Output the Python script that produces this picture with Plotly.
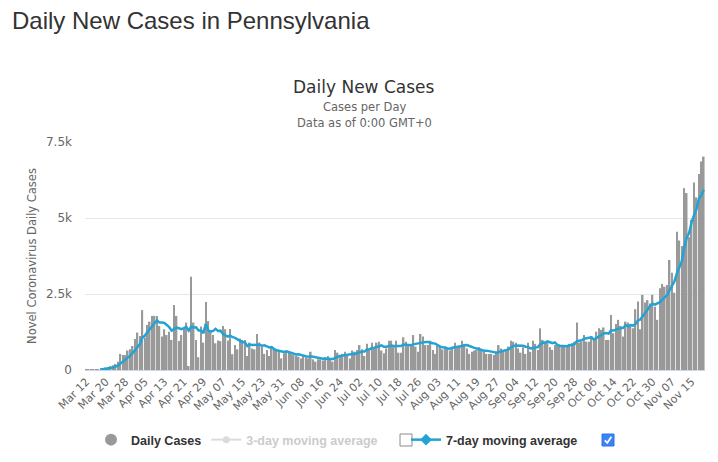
import plotly.graph_objects as go
import pandas as pd

# ---------------- data ----------------
dates = pd.date_range("2020-03-12", "2020-11-20", freq="D")
categories = [d.strftime("%b %d") for d in dates]

daily_cases = [
    5, 12, 8, 20, 15, 25, 40,
    50, 80, 100, 130, 160, 200, 270, 530, 490, 490,
    640, 680, 790, 1020, 1230, 1120, 1970, 1060, 1480, 1590,
    1780, 1780, 1780, 1450, 1100, 1340, 1150, 1260, 990, 2140,
    1780, 950, 1150, 1370, 1560, 130, 3070, 1560, 990, 420,
    1430, 900, 2240, 1610, 1260, 1150, 880, 970, 950, 1450,
    1340, 970, 1350, 520, 820, 680, 1040, 990, 990, 460,
    900,
    710, 680, 1185, 900, 770, 530, 660, 460, 790, 660,
    680, 640, 380, 550, 600, 570, 530, 490, 460, 440,
    380, 460, 420, 380, 600, 350, 275, 350, 350, 310,
    420, 460, 350, 275, 660, 570, 490, 530, 600, 460,
    380, 640, 600, 660, 820, 680, 460, 860, 680, 900,
    750, 900, 930, 640, 550, 710, 965, 965, 770, 965,
    570, 570, 1075, 930, 790,
    820, 1150, 770, 600, 1185, 1100, 820, 820, 965, 660,
    530, 820, 770, 680, 770, 710, 640, 750, 900, 770,
    790, 965, 860, 710, 530, 600, 640, 660, 750, 680,
    600, 530, 530, 530, 490, 600, 820, 710, 660, 680,
    770, 965, 930, 900, 710, 570, 750, 530, 900, 600,
    965, 860, 660, 1370, 990, 860, 900, 750, 660, 820, 790,
    820, 820, 790, 790, 860, 880, 930, 1560, 900, 930,
    1150, 930, 930, 1120, 1040, 1260, 1370, 1320, 1400, 990,
    990, 1810, 1210, 1510, 1650, 1450, 1100, 1590, 1560, 1510,
    1370, 2000, 2250, 1340, 2470, 2220, 2300, 2190, 2470, 2080,
    1650, 2690, 2830, 2740, 2800, 3620, 3200, 2540, 4550, 4260,
    4080, 5980, 5820, 4370, 4940, 6170, 5680, 6450, 6860, 7020,
]

tick_labels = categories[::8]
y_tick_values = [0, 2500, 5000, 7500]
y_tick_labels = ["0", "2.5k", "5k", "7.5k"]

series = pd.Series(daily_cases, dtype=float)
avg_3 = series.rolling(3).mean()
avg_7 = series.rolling(7).mean()

# ---------------- geometry helpers ----------------
W, H = 718, 462
L, R, T, B = 85, 13, 142, 92
PW = W - L - R
PH = H - T - B


def px_x(x):
    return (x - L) / PW


def px_y(y):
    return (H - B - y) / PH


BAR = "#999999"
LINE7 = "#22a3d4"

fig = go.Figure()

fig.add_trace(go.Bar(
    x=categories, y=daily_cases, name="Daily Cases",
    marker=dict(color=BAR, line=dict(width=0)),
    legendgroup="daily", showlegend=False,
))
fig.add_trace(go.Scatter(
    x=[None], y=[None], mode="markers", name="<b>Daily Cases</b>",
    marker=dict(symbol="circle", size=12, color=BAR),
    legendgroup="daily", legend="legend",
))
fig.add_trace(go.Scatter(
    x=categories, y=avg_3, mode="lines+markers",
    name='<b><span style="color:#999999">3-day moving average</span></b>',
    line=dict(color="#bbbbbb", width=2), marker=dict(symbol="circle", size=7, color="#bbbbbb"),
    visible="legendonly", legend="legend",
))
fig.add_trace(go.Scatter(
    x=categories, y=avg_7, mode="lines", name="7-day moving average",
    line=dict(color=LINE7, width=2.5),
    legendgroup="avg7", showlegend=False,
))
fig.add_trace(go.Scatter(
    x=[None], y=[None], mode="lines+markers", name="<b>7-day moving average</b>",
    line=dict(color=LINE7, width=2.5), marker=dict(symbol="diamond", size=9, color=LINE7),
    legendgroup="avg7", legend="legend2",
))

legend_font = dict(family="Liberation Sans", size=12.5, color="#333333")

fig.update_layout(
    width=W, height=H,
    margin=dict(l=L, r=R, t=T, b=B, autoexpand=False),
    plot_bgcolor="white", paper_bgcolor="white",
    bargap=0.35,
    font=dict(family="DejaVu Sans", color="#666666"),
    title=dict(
        text="Daily New Cases in Pennsylvania",
        x=12 / W, xanchor="left", xref="container",
        y=1 - 21 / H, yanchor="middle", yref="container",
        font=dict(family="Liberation Sans", size=24, color="#333333"),
    ),
    xaxis=dict(
        type="category", range=[-0.5, len(categories) - 0.5],
        tickmode="array", tickvals=tick_labels, ticktext=tick_labels,
        tickangle=-45, tickfont=dict(size=11, color="#666666"),
        showline=True, linecolor="#ccd6eb", linewidth=1,
        showgrid=False, ticks="", automargin=False, fixedrange=True,
    ),
    yaxis=dict(
        range=[0, 7500], tickmode="array",
        tickvals=y_tick_values, ticktext=y_tick_labels,
        tickfont=dict(size=12, color="#666666"),
        showgrid=True, gridcolor="#e6e6e6", gridwidth=1,
        zeroline=False, showline=False, ticks="",
        ticklabelstandoff=12, automargin=False, fixedrange=True,
        title=dict(text="Novel Coronavirus Daily Cases",
                   font=dict(size=11.5, color="#666666"), standoff=6),
    ),
    legend=dict(
        orientation="h", x=px_x(91), xanchor="left",
        y=px_y(440), yanchor="middle", font=legend_font,
        bgcolor="rgba(0,0,0,0)", traceorder="normal",
    ),
    legend2=dict(
        orientation="h", x=px_x(406), xanchor="left",
        y=px_y(440), yanchor="middle", font=legend_font,
        bgcolor="rgba(0,0,0,0)",
    ),
    showlegend=True,
    annotations=[
        dict(text="Daily New Cases", x=px_x(364), y=px_y(87), xref="paper", yref="paper",
             xanchor="center", yanchor="middle", showarrow=False,
             font=dict(size=17, color="#333333")),
        dict(text="Cases per Day", x=px_x(364), y=px_y(107), xref="paper", yref="paper",
             xanchor="center", yanchor="middle", showarrow=False,
             font=dict(size=11.5, color="#666666")),
        dict(text="Data as of 0:00 GMT+0", x=px_x(364), y=px_y(123), xref="paper", yref="paper",
             xanchor="center", yanchor="middle", showarrow=False,
             font=dict(size=11.5, color="#666666")),
    ],
    shapes=[
        dict(type="rect", xref="paper", yref="paper",
             x0=px_x(400), x1=px_x(412), y0=px_y(446), y1=px_y(434),
             line=dict(color="#8a8a8a", width=1), fillcolor="white"),
        dict(type="rect", xref="paper", yref="paper",
             x0=px_x(602), x1=px_x(614), y0=px_y(446), y1=px_y(434),
             line=dict(color="#2f74e8", width=1), fillcolor="#3b82f6"),
        dict(type="path", xref="paper", yref="paper",
             path=f"M {px_x(604.8)},{px_y(440.3)} L {px_x(607.3)},{px_y(442.8)} L {px_x(611.4)},{px_y(436.8)}",
             line=dict(color="white", width=1.8)),
    ],
)

fig.write_html(
    "out.html",
    config={"displayModeBar": False},
    post_script="document.body.style.margin='0';",
)
